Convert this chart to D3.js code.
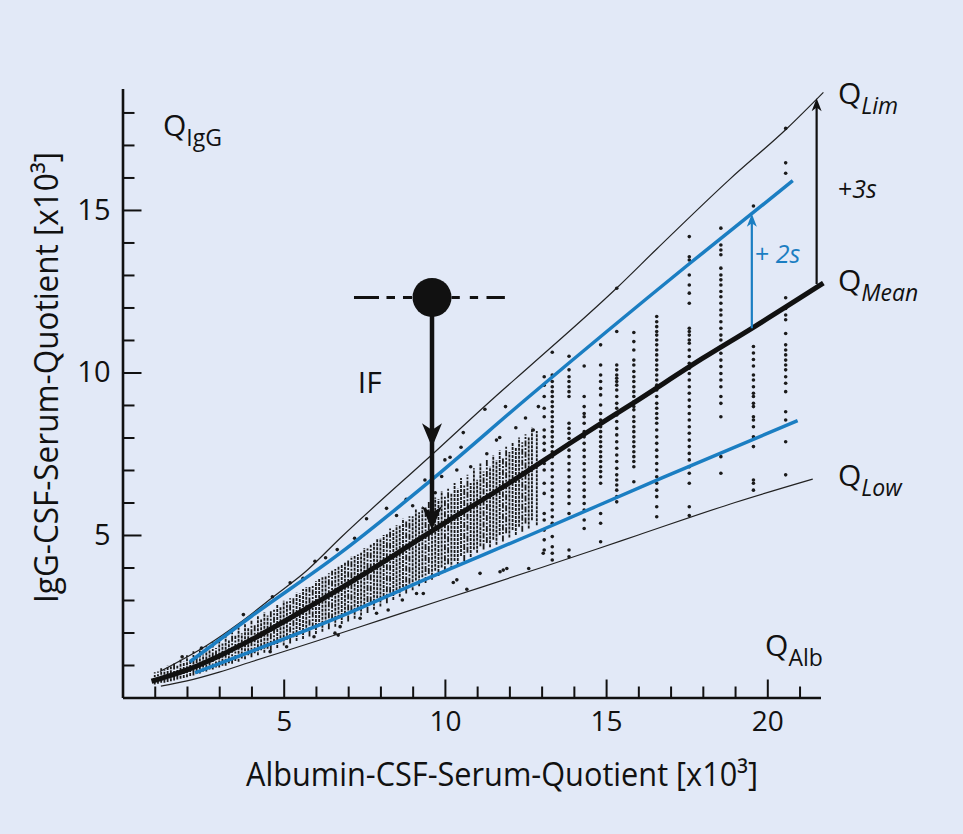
<!DOCTYPE html>
<html>
<head>
<meta charset="utf-8">
<script src="https://cdn.jsdelivr.net/npm/d3@7"></script>
<style>
  html, body { margin: 0; padding: 0; background: #e2e9f7; }
  svg { display: block; font-family: "Open Sans", sans-serif; }
</style>
</head>
<body>
<div id="chart"></div>
<script>
const width = 963;
const height = 834;

// axis ticks
const xMajorTicks = [5, 10, 15, 20];
const xMinorTicks = [1, 2, 3, 4, 6, 7, 8, 9, 11, 12, 13, 14, 16, 17, 18, 19, 21];
const yMajorTicks = [5, 10, 15];
const yMinorTicks = [1, 2, 3, 4, 6, 7, 8, 9, 11, 12, 13, 14, 16, 17, 18];

// reference curves [QAlb, QIgG]
const qLim = [[1.16, 0.8], [2.61, 1.6], [3.64, 2.3], [4.68, 3.1], [5.71, 3.9], [6.75, 4.9], [9.74, 7.6],
  [11.5, 9.2], [12.64, 10.2], [15.33, 12.6], [16.57, 13.8], [18.84, 15.95], [20.6, 17.5], [21.74, 18.62]];
const qMean = [[0.9, 0.5], [2, 0.85], [3, 1.28], [4, 1.78], [6, 2.91], [8, 4.11], [9.59, 5.12], [12, 6.6],
  [14, 7.9], [16, 9.16], [18, 10.44], [19.52, 11.36], [21.74, 12.75]];
const qLow = [[1.19, 0.35], [2, 0.51], [3, 0.78], [4, 1.1], [6, 1.73], [8, 2.38], [10, 3.03], [13, 4.0],
  [14.81, 4.6], [16, 5.0], [19, 6.0], [21.41, 6.72]];
const upper2s = [[2.09, 1.1], [4.0, 2.5], [6.75, 4.44], [9.64, 6.74], [12.54, 9.2], [17.6, 13.36], [20.79, 15.9]];
const lower2s = [[2.25, 0.76], [4.0, 1.42], [6.75, 2.49], [9.5, 3.68], [12.64, 5.0], [16.77, 6.77], [20.94, 8.52]];

// dense part of the cloud: vertical runs of points [QAlb, lowest QIgG, highest QIgG]
const denseRuns = [
  [1.0, 0.40, 0.78], [1.2, 0.45, 0.90], [1.4, 0.48, 0.98], [1.6, 0.52, 1.05], [1.8, 0.58, 1.18],
  [2.0, 0.62, 1.30], [2.2, 0.68, 1.42], [2.4, 0.74, 1.50], [2.6, 0.80, 1.58], [2.8, 0.86, 1.70],
  [3.0, 0.92, 1.80], [3.2, 0.98, 1.92], [3.4, 1.04, 2.02], [3.6, 1.10, 2.15], [3.8, 1.18, 2.28],
  [4.0, 1.24, 2.36], [4.2, 1.30, 2.50], [4.4, 1.38, 2.62], [4.6, 1.45, 2.70], [4.8, 1.52, 2.86],
  [5.0, 1.60, 2.98], [5.2, 1.66, 3.05], [5.4, 1.74, 3.22], [5.6, 1.80, 3.34], [5.8, 1.88, 3.40],
  [6.0, 1.95, 3.58], [6.2, 2.02, 3.70], [6.4, 2.10, 3.82], [6.6, 2.18, 3.95], [6.8, 2.26, 4.10],
  [7.0, 2.34, 4.22], [7.2, 2.42, 4.35], [7.4, 2.52, 4.45], [7.6, 2.60, 4.62], [7.8, 2.70, 4.75],
  [8.0, 2.80, 4.90], [8.2, 2.90, 5.02], [8.4, 3.00, 5.15], [8.6, 3.10, 5.30], [8.8, 3.20, 5.42],
  [9.0, 3.30, 5.58], [9.2, 3.42, 5.70], [9.4, 3.52, 5.85], [9.6, 3.62, 5.98], [9.8, 3.74, 6.10],
  [10.0, 3.85, 6.22], [10.2, 3.96, 6.30], [10.4, 4.08, 6.42], [10.6, 4.20, 6.55], [10.8, 4.32, 6.60],
  [11.0, 4.45, 6.70], [11.2, 4.55, 6.95], [11.4, 4.62, 7.10], [11.6, 4.70, 7.30], [11.8, 4.80, 7.40],
  [12.0, 4.92, 7.55], [12.2, 5.00, 7.70], [12.4, 5.10, 7.85], [12.6, 5.20, 8.00], [12.85, 5.30, 8.20]
];

// runs in between, around the mean
const coreRuns = [
  [1.1, 0.42, 0.80], [1.3, 0.45, 0.86], [1.5, 0.50, 0.95], [1.7, 0.55, 0.98], [1.9, 0.60, 1.10],
  [2.1, 0.66, 1.15], [2.3, 0.72, 1.28], [2.5, 0.80, 1.32], [2.7, 0.86, 1.45], [2.9, 0.92, 1.52],
  [3.1, 0.98, 1.66], [3.3, 1.05, 1.75], [3.5, 1.12, 1.90], [3.7, 1.20, 1.98], [3.9, 1.30, 2.15],
  [4.1, 1.36, 2.26], [4.3, 1.45, 2.40], [4.5, 1.50, 2.52], [4.7, 1.62, 2.70], [4.9, 1.70, 2.78],
  [5.1, 1.78, 2.95], [5.3, 1.85, 3.10], [5.5, 1.95, 3.20], [5.7, 2.02, 3.40], [5.9, 2.12, 3.45],
  [6.1, 2.20, 3.65], [6.3, 2.28, 3.75], [6.5, 2.40, 3.90], [6.7, 2.45, 4.05], [6.9, 2.58, 4.15],
  [7.1, 2.65, 4.35], [7.3, 2.75, 4.40], [7.5, 2.85, 4.60], [7.7, 2.92, 4.70], [7.9, 3.05, 4.90],
  [8.1, 3.12, 5.00], [8.3, 3.22, 5.20], [8.5, 3.30, 5.30], [8.7, 3.40, 5.50], [8.9, 3.50, 5.58],
  [9.1, 3.60, 5.80], [9.3, 3.70, 5.85], [9.5, 3.80, 6.05], [9.7, 3.90, 6.15], [9.9, 4.00, 6.35],
  [10.1, 4.10, 6.42], [10.3, 4.20, 6.60], [10.5, 4.35, 6.75], [10.7, 4.45, 6.85], [10.9, 4.55, 7.05],
  [11.1, 4.65, 7.20], [11.3, 4.75, 7.35], [11.5, 4.85, 7.45], [11.7, 5.00, 7.60], [11.9, 5.05, 7.75],
  [12.1, 5.15, 7.85], [12.3, 5.25, 8.00], [12.5, 5.35, 8.10], [12.7, 5.45, 8.30]
];

// single points outside the dense runs
const looseDots = [
  [1.85, 1.25], [2.45, 1.52], [3.75, 2.55], [4.65, 3.1], [5.2, 3.53], [5.6, 3.67], [5.97, 4.19], [6.66, 4.55],
  [7.57, 5.5], [8.19, 5.82], [9.38, 6.69], [10.0, 7.31], [10.16, 7.39], [10.37, 7.0], [10.5, 7.7], [10.57, 8.15],
  [11.24, 8.87], [11.6, 7.92], [11.88, 8.95], [12.74, 8.23], [12.9, 8.95],
  [4.58, 1.41], [5.09, 1.56], [5.94, 1.87], [6.59, 1.98], [6.69, 1.92], [6.75, 2.18], [7.37, 2.44], [7.88, 2.59],
  [8.24, 2.69], [8.68, 3.0], [9.12, 3.2], [9.33, 3.2], [10.26, 3.54], [10.37, 3.62], [10.68, 3.33], [11.09, 3.82],
  [11.71, 3.87], [11.81, 3.92], [11.92, 3.97], [12.6, 3.97], [13.05, 4.44],
  [8.8, 6.1], [9.0, 5.9], [9.7, 6.3], [10.8, 7.1], [11.3, 7.5], [12.2, 8.3], [7.2, 4.9], [6.3, 4.3],
  [8.5, 5.6], [9.9, 6.8], [11.7, 8.0], [12.5, 8.6]
];

// the columns of points on the right
const columnAlb = [13.08, 13.33, 13.85, 14.32, 14.83, 15.33, 15.86, 16.57, 17.58, 18.56, 19.57, 20.57];
const columnIgG = [
  [9.87, 9.61, 9.26, 8.9, 8.64, 8.23, 8.02, 7.82, 7.61, 7.2, 7.0, 6.59, 6.28, 5.66, 5.46, 5.15, 4.85, 4.54],
  [10.62, 9.92, 9.72, 9.56, 9.41, 9.26, 9.1, 8.95, 8.79, 8.64, 8.49, 8.33, 8.18, 8.02, 7.87, 7.72, 7.56, 7.41,
    7.2, 7.0, 6.79, 6.59, 6.38, 6.18, 5.97, 5.77, 5.56, 5.36, 4.95, 4.64, 4.44, 4.23],
  [10.5, 10.08, 9.87, 9.72, 9.56, 9.41, 9.26, 8.44, 8.28, 8.13, 7.97, 7.82, 7.61, 7.41, 7.2, 7.0, 6.79, 6.59,
    6.38, 6.18, 5.97, 5.66, 4.54, 4.33],
  [10.2, 9.26, 8.95, 8.74, 8.64, 8.44, 8.18, 8.02, 7.82, 7.61, 7.41, 7.2, 7.0, 6.79, 6.59, 6.38, 6.18, 5.97,
    5.77, 5.46, 5.2],
  [10.85, 10.23, 9.92, 9.72, 9.51, 9.31, 9.0, 8.74, 8.54, 8.33, 8.18, 8.02, 7.87, 7.72, 7.56, 7.41, 7.26, 7.1,
    6.95, 6.79, 6.59, 5.66, 5.36, 4.79],
  [12.59, 11.26, 10.23, 10.08, 9.92, 9.82, 9.72, 9.61, 9.46, 9.26, 9.05, 8.9, 8.69, 8.49, 8.28, 8.08, 7.87,
    7.67, 7.46, 7.26, 7.05, 6.85, 6.69, 6.54, 6.38, 6.18, 6.02],
  [11.23, 10.95, 10.69, 10.38, 10.23, 10.03, 9.87, 9.72, 9.56, 9.41, 9.26, 9.1, 8.95, 8.85, 8.64, 8.49, 8.33,
    8.18, 8.02, 7.87, 7.72, 7.56, 7.41, 7.26, 7.1, 6.64],
  [11.72, 11.56, 11.41, 11.26, 11.15, 11.0, 10.85, 10.69, 10.54, 10.38, 10.23, 10.08, 9.92, 9.77, 9.61, 9.46,
    9.26, 9.05, 8.9, 8.74, 8.59, 8.44, 8.23, 8.02, 7.82, 7.61, 7.41, 7.2, 7.0, 6.79, 6.59, 6.38, 6.18, 5.87, 5.56],
  [14.18, 13.56, 13.46, 13.0, 12.69, 12.44, 12.13, 11.36, 11.26, 11.15, 11.0, 10.9, 10.69, 10.49, 10.28, 10.13,
    9.97, 9.77, 9.56, 9.36, 9.15, 8.95, 8.74, 8.54, 8.33, 8.13, 7.92, 7.72, 7.51, 7.31, 7.1, 6.9, 6.59, 5.87, 5.6],
  [14.44, 13.92, 13.77, 13.62, 13.21, 13.0, 12.85, 12.69, 12.49, 12.33, 12.13, 11.92, 11.77, 11.56, 11.36,
    11.15, 11.0, 10.79, 10.59, 10.38, 10.18, 9.97, 9.77, 9.56, 9.26, 9.05, 8.64, 7.41, 6.9],
  [15.12, 10.8, 10.6, 10.4, 10.2, 9.92, 9.77, 9.56, 9.36, 9.26, 9.05, 8.95, 8.64, 8.54, 8.33, 8.02, 7.72,
    6.69, 6.59, 6.38],
  [17.51, 16.45, 16.13, 12.3, 11.97, 11.77, 11.62, 11.2, 10.85, 10.69, 10.54, 10.38, 10.23, 10.08, 9.87, 9.67,
    9.41, 8.79, 8.54, 7.87, 6.85]
];

// IF example and the +2s / +3s arrows
const ifPoint = [9.6, 12.31];
const ifDashFrom = 7.18, ifDashTo = 11.86;
const ifArrowTips = [7.7, 5.15];
const sdArrows = [
  { x: 21.53, from: 12.72, to: 18.44, color: "#111" },
  { x: 19.52, from: 11.36, to: 14.88, color: "#1b7ec2" }
];

const blue = "#1b7ec2";
const ink = "#111";

const svg = d3.select("#chart")
  .append("svg")
    .attr("width", width)
    .attr("height", height);

svg.append("rect")
    .attr("width", width)
    .attr("height", height)
    .attr("fill", "#e2e9f7");

const x = d3.scaleLinear().domain([0, 21.65]).range([122.5, 820.5]);
const y = d3.scaleLinear().domain([0, 18.74]).range([697.5, 88.4]);

// axes, ticks pointing inwards
svg.append("g")
    .attr("transform", `translate(0,${y(0)})`)
    .call(d3.axisBottom(x).tickValues(xMinorTicks).tickSize(-11).tickSizeOuter(0).tickFormat(""))
    .call(g => g.select(".domain").remove());
svg.append("g")
    .attr("transform", `translate(0,${y(0)})`)
    .call(d3.axisBottom(x).tickValues(xMajorTicks).tickSize(-18).tickSizeOuter(0).tickPadding(14))
    .call(g => g.selectAll("text").attr("font-size", 28).attr("fill", ink).attr("font-family", "Open Sans"));

svg.append("g")
    .attr("transform", `translate(${x(0)},0)`)
    .call(d3.axisLeft(y).tickValues(yMinorTicks).tickSize(-12).tickSizeOuter(0).tickFormat(""))
    .call(g => g.select(".domain").remove());
svg.append("g")
    .attr("transform", `translate(${x(0)},0)`)
    .call(d3.axisLeft(y).tickValues(yMajorTicks).tickSize(-19).tickSizeOuter(0).tickPadding(12))
    .call(g => g.selectAll("text").attr("font-size", 29).attr("fill", ink).attr("font-family", "Open Sans"));

svg.selectAll(".tick line").attr("stroke", ink).attr("stroke-width", 2);
svg.selectAll(".domain").attr("stroke", ink).attr("stroke-width", 2.6);

// axis titles
svg.append("text")
    .attr("x", 246)
    .attr("y", 786)
    .attr("font-size", 33)
    .attr("fill", ink)
    .attr("textLength", 512)
    .attr("lengthAdjust", "spacingAndGlyphs")
    .text("Albumin-CSF-Serum-Quotient [x10³]");

svg.append("text")
    .attr("transform", "translate(58,603) rotate(-90)")
    .attr("font-size", 33)
    .attr("fill", ink)
    .attr("textLength", 451)
    .attr("lengthAdjust", "spacingAndGlyphs")
    .text("IgG-CSF-Serum-Quotient [x10³]");

const line = d3.line()
    .x(d => x(d[0]))
    .y(d => y(d[1]))
    .curve(d3.curveMonotoneX);

// thin limit curves
[qLim, qLow].forEach(c => {
  svg.append("path")
      .attr("d", line(c))
      .attr("fill", "none")
      .attr("stroke", "#222")
      .attr("stroke-width", 1.2);
});

// point cloud
svg.append("g")
  .selectAll("line")
  .data(denseRuns.concat(coreRuns))
  .join("line")
    .attr("x1", d => x(d[0]))
    .attr("x2", d => x(d[0]))
    .attr("y1", d => y(d[1]))
    .attr("y2", d => y(d[2]))
    .attr("stroke", "#1a1a1a")
    .attr("stroke-width", 1.8)
    .attr("stroke-dasharray", (d, i) => i % 3 === 0 ? "6,1.5,2,1.5" : "3,1");

const columnDots = columnAlb.flatMap((a, i) => columnIgG[i].map(v => [a, v]));

svg.append("g")
  .selectAll("circle")
  .data(looseDots.concat(columnDots))
  .join("circle")
    .attr("cx", d => x(d[0]))
    .attr("cy", d => y(d[1]))
    .attr("r", 1.8)
    .attr("fill", "#1a1a1a");

// +-2s curves
[upper2s, lower2s].forEach(c => {
  svg.append("path")
      .attr("d", line(c))
      .attr("fill", "none")
      .attr("stroke", blue)
      .attr("stroke-width", 3.5);
});

// mean curve
svg.append("path")
    .attr("d", line(qMean))
    .attr("fill", "none")
    .attr("stroke", ink)
    .attr("stroke-width", 5);

// arrowhead with its tip at (tx, ty); dir 1 points down, -1 points up
function arrowHead(tx, ty, len, w, dir, color) {
  const p = d3.path();
  p.moveTo(tx, ty);
  p.lineTo(tx - w / 2, ty - dir * len);
  p.lineTo(tx, ty - dir * len * 0.72);
  p.lineTo(tx + w / 2, ty - dir * len);
  p.closePath();
  svg.append("path").attr("d", p.toString()).attr("fill", color);
}

// +3s / +2s arrows
sdArrows.forEach(a => {
  svg.append("line")
      .attr("x1", x(a.x)).attr("x2", x(a.x))
      .attr("y1", y(a.from)).attr("y2", y(a.to) + 6)
      .attr("stroke", a.color)
      .attr("stroke-width", 2.2);
  arrowHead(x(a.x), y(a.to), 13, 10, -1, a.color);
});

// IF example
const cx = x(ifPoint[0]), cy = y(ifPoint[1]), cr = 19.5;
svg.append("line")
    .attr("x1", x(ifDashFrom)).attr("x2", cx - cr)
    .attr("y1", cy).attr("y2", cy)
    .attr("stroke", ink).attr("stroke-width", 3)
    .attr("stroke-dasharray", "25,7.5,8.5,8,9,20");
svg.append("line")
    .attr("x1", cx + cr).attr("x2", x(ifDashTo))
    .attr("y1", cy).attr("y2", cy)
    .attr("stroke", ink).attr("stroke-width", 3)
    .attr("stroke-dasharray", "8.3,10,8.3,8.4,20");
svg.append("line")
    .attr("x1", cx).attr("x2", cx)
    .attr("y1", cy).attr("y2", y(ifArrowTips[1]) - 10)
    .attr("stroke", ink).attr("stroke-width", 4.5);
ifArrowTips.forEach(t => arrowHead(cx, y(t), 24, 20, 1, ink));
svg.append("circle")
    .attr("cx", cx).attr("cy", cy).attr("r", cr)
    .attr("fill", ink);

// in-plot labels
function qLabel(xv, yv, sub, italic) {
  const t = svg.append("text")
      .attr("x", x(xv))
      .attr("y", y(yv))
      .attr("fill", ink)
      .attr("font-size", 30);
  t.append("tspan").text("Q");
  t.append("tspan")
      .attr("dy", 10)
      .attr("font-size", 23)
      .attr("font-style", italic ? "italic" : "normal")
      .text(sub);
}
qLabel(1.256, 17.28, "IgG", false);
qLabel(22.19, 18.26, "Lim", true);
qLabel(22.19, 12.51, "Mean", true);
qLabel(22.19, 6.51, "Low", true);
qLabel(19.93, 1.28, "Alb", false);

const s3 = svg.append("text")
    .attr("x", x(22.19)).attr("y", y(15.37))
    .attr("font-size", 25).attr("fill", ink);
s3.append("tspan").text("+");
s3.append("tspan").attr("font-style", "italic").text("3s");

const s2 = svg.append("text")
    .attr("x", x(19.62)).attr("y", y(13.37))
    .attr("font-size", 25).attr("fill", blue);
s2.append("tspan").text("+ ");
s2.append("tspan").attr("font-style", "italic").text("2s");

svg.append("text")
    .attr("x", x(7.3)).attr("y", y(9.37))
    .attr("font-size", 30).attr("fill", ink)
    .text("IF");
</script>
</body>
</html>
